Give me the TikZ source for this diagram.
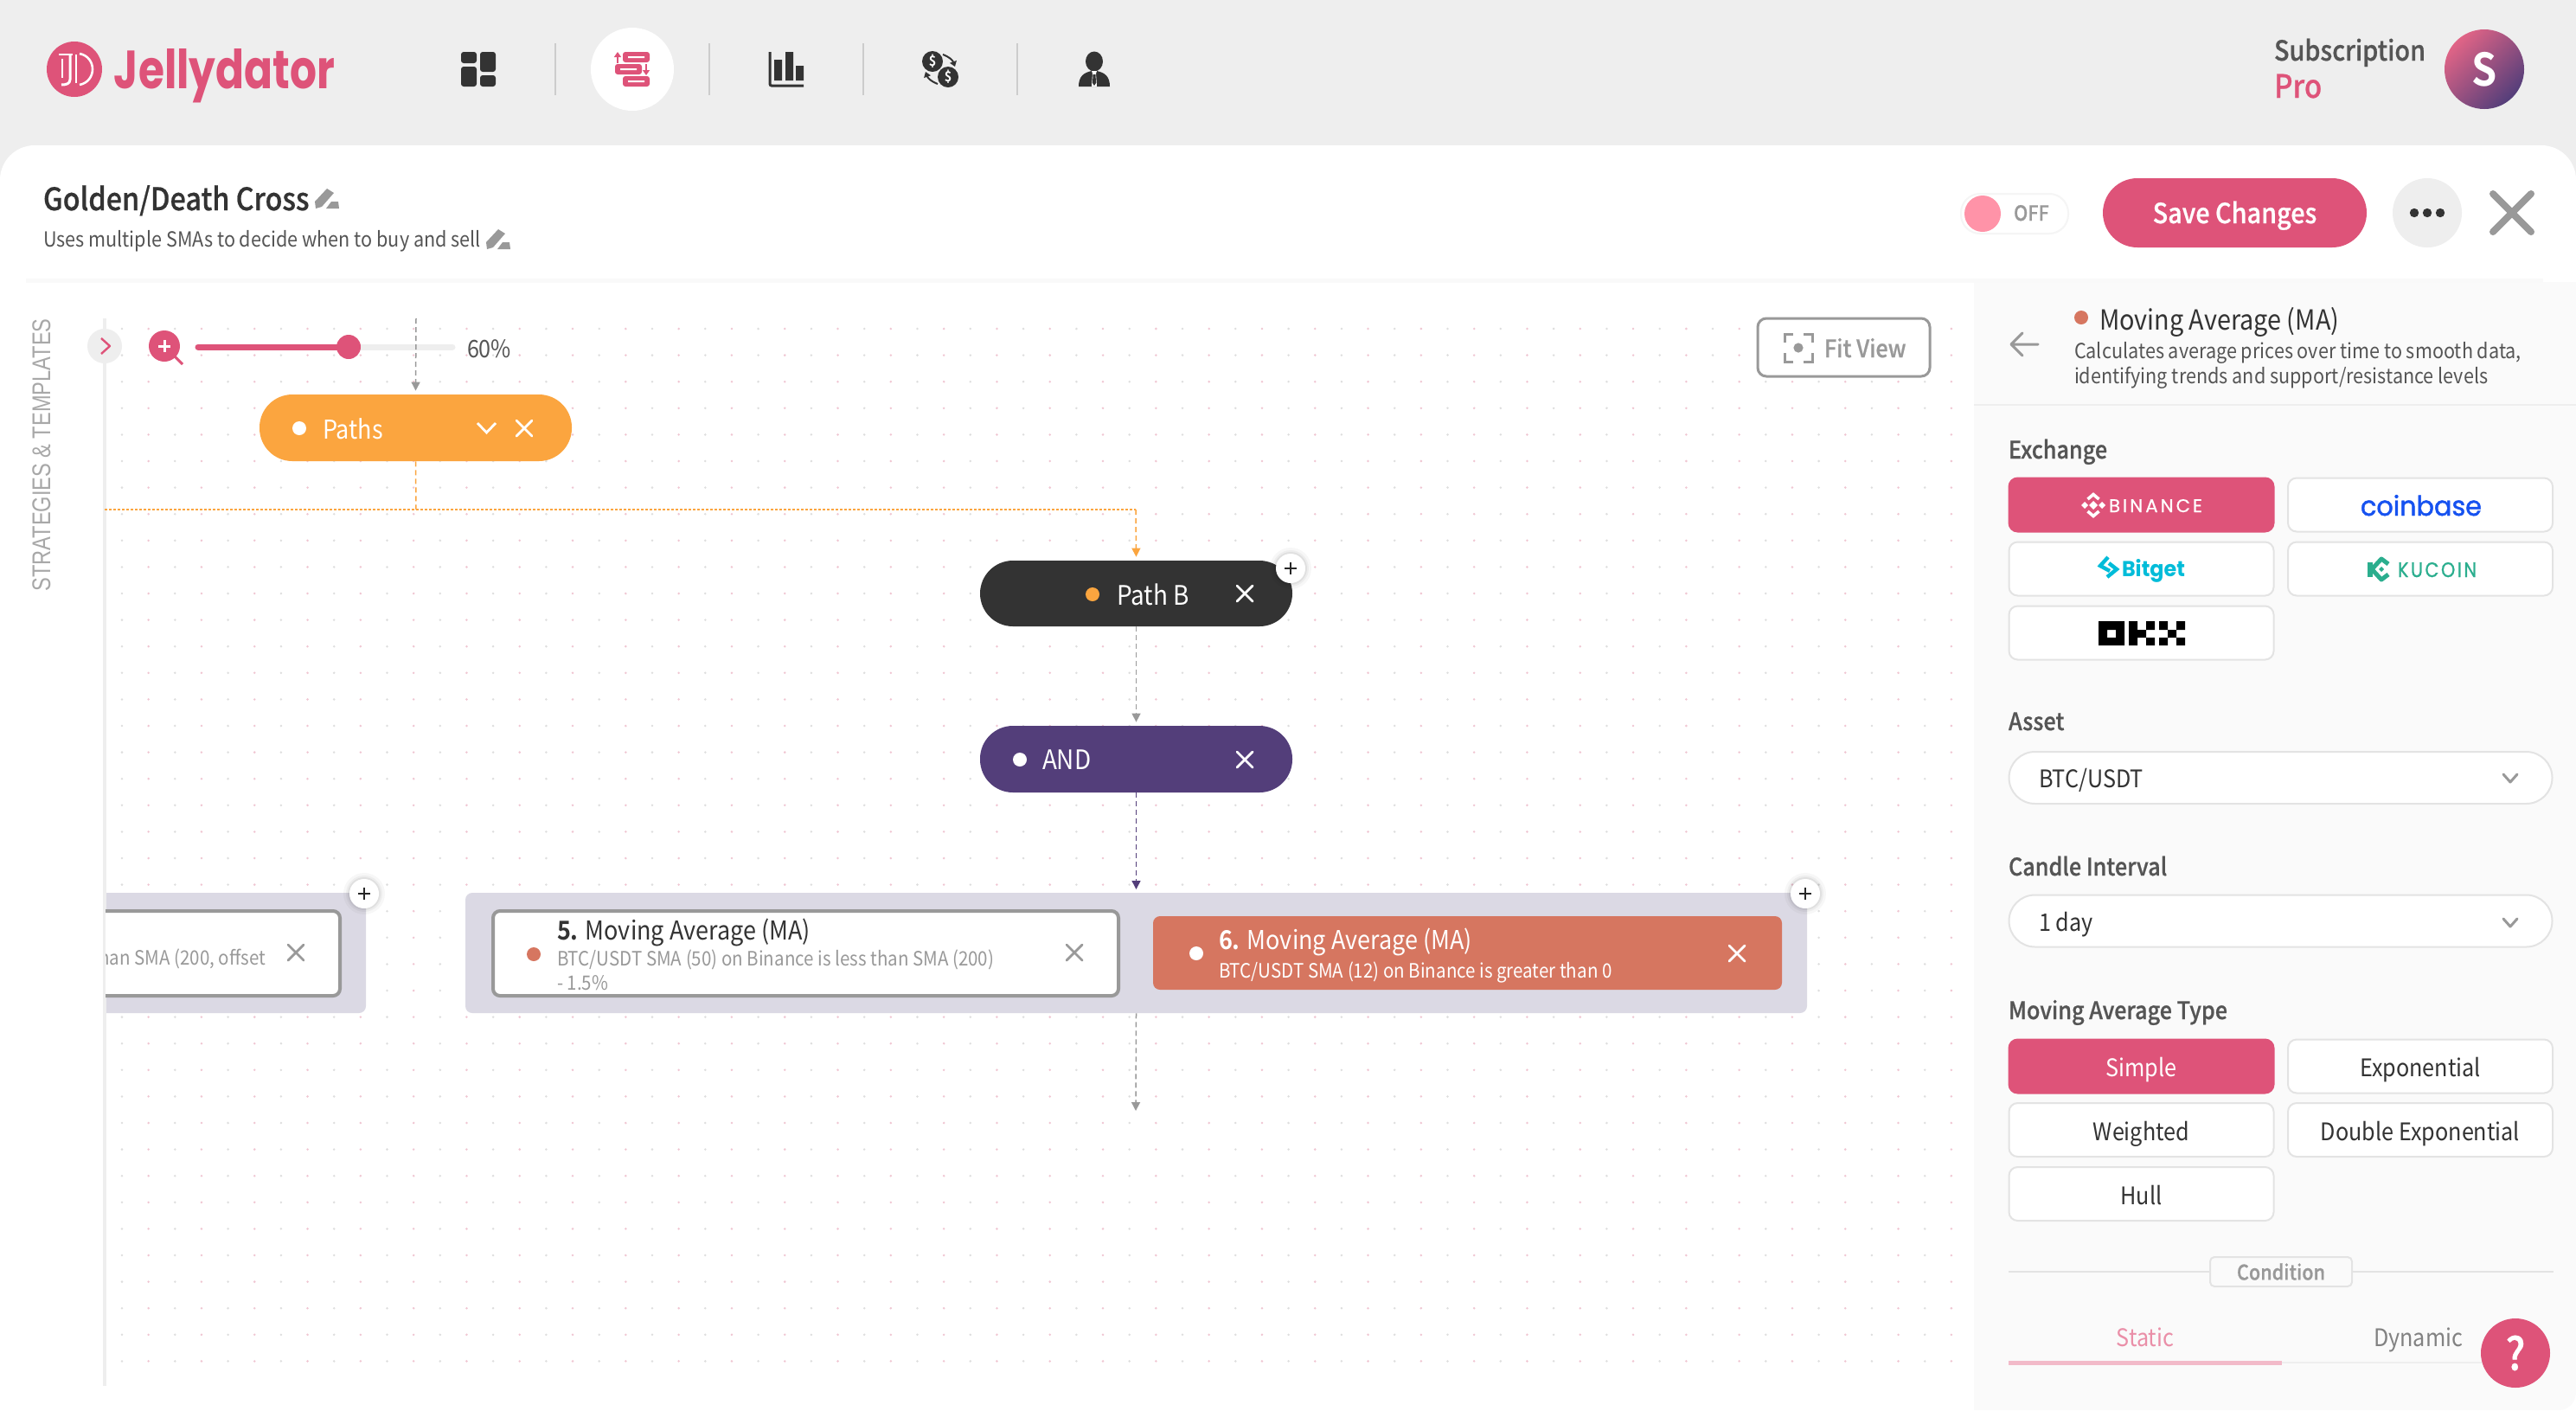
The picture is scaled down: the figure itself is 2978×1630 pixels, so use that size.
\documentclass[tikz,border=0pt]{standalone}
\usepackage{fontspec}
\usepackage{graphicx}
\usetikzlibrary{arrows.meta,shadows}
\setmainfont{Noto Sans CJK JP}[FakeStretch=0.9,BoldFont={Noto Sans CJK JP Bold}]
\newfontfamily\medf{Noto Sans CJK JP Medium}[FakeStretch=0.9,FakeBold=0.6]
\newfontfamily\popf{Poppins}[BoldFont={Poppins Bold}]
\newfontfamily\heli{Liberation Sans}
\newcommand{\fpx}[1]{\fontsize{#1}{#1}\selectfont}
\definecolor{jpink}{HTML}{DE5379}
\definecolor{jdark}{HTML}{333333}
\definecolor{jbg}{HTML}{EEEEEE}
\definecolor{jorange}{HTML}{FBA53F}
\definecolor{jpurple}{HTML}{533E7A}
\definecolor{jcoral}{HTML}{D67660}
\definecolor{jgroup}{HTML}{DBD9E4}
\definecolor{jgray}{HTML}{999999}
\definecolor{jtxt}{HTML}{555555}
\definecolor{jline}{HTML}{E3E3E3}
\definecolor{jpanel}{HTML}{FAFAFA}
\definecolor{dotpink}{HTML}{F0C6D2}
\definecolor{dotgray}{HTML}{DEDEDE}
\definecolor{jtoggle}{HTML}{FF93A8}
\newcommand{\closex}[5][1]{\draw[#5,line width=#4,line cap=round] ({#2-#1},{#3-#1}) -- ({#2+#1},{#3+#1}) ({#2-#1},{#3+#1}) -- ({#2+#1},{#3-#1});}
\newcommand{\pencilicon}[3]{\begin{scope}[shift={(#1,#2)},scale=#3]
\fill[jgray] (1,24) -- (0,16) -- (14,1) -- (22,6) -- (8,22) -- cycle;
\fill[jgray] (13,24) -- (19,16) -- (27,16) -- (28,24) -- cycle;
\end{scope}}
\newcommand{\plusbtn}[3]{\fill[black,opacity=.03] (#2,#3) circle (12pt);\fill[black,opacity=.04] (#2,#3) circle (10.5pt);\fill[black,opacity=.05] (#2,#3) circle (9.5pt);
\node[circle,fill=white,minimum size=17pt,inner sep=0] (#1) at (#2,#3) {};
\draw[black!85,line width=1.1pt] ({#2-7},#3) -- ({#2+7},#3) ({#2},{#3-7}) -- ({#2},{#3+7});}
\tikzset{
 x=0.5pt,y=-0.5pt,
 txt/.style={inner sep=0,outer sep=0,anchor=base west},
 ctxt/.style={inner sep=0,outer sep=0,anchor=base},
 btn/.style={draw=jline,line width=1pt,fill=white,rounded corners=5pt,minimum width=153pt,minimum height=31pt,inner sep=0,text height=15pt,text depth=3pt,font=\fpx{14},text=jdark},
 btnon/.style={btn,draw=jpink,fill=jpink,text=white},
 pill/.style={rounded corners=19pt,minimum width=180.5pt,minimum height=38.5pt,inner sep=0},
 conn/.style={line width=.75pt,dash pattern=on 3pt off 2pt,-{Triangle[length=5pt,width=5pt]}},
 dashonly/.style={line width=.75pt,dash pattern=on 3pt off 2pt},
 sel/.style={draw=jline,line width=1pt,fill=white,rounded corners=15pt,minimum width=314pt,minimum height=30pt,inner sep=0},
 chev/.style={draw=jgray,line width=1.5pt,line cap=round,line join=round},
 icon/.style={fill=jdark},
}
\begin{document}
\begin{tikzpicture}
\useasboundingbox (0,0) rectangle (2978,1630);
% backgrounds
\fill[jbg] (0,0) rectangle (2978,1630);
\fill[white,rounded corners=20pt] (0,168) rectangle (2978,1680);
\fill[jpanel] (2282,326) -- (2978,326) -- (2978,1608) .. controls (2978,1620) and (2970,1630) .. (2958,1630) -- (2282,1630) -- cycle;
\fill[white] (0,1610) rectangle (2282,1630);
\fill[jbg!35] (30,322) rectangle (2940,327);
% dots
\fill[dotpink] \foreach \i in {1,3,...,69}{\foreach \j in {0,...,39}{({141+30.65*\i},{380+30.6*\j}) circle (0.7pt)}};
\fill[dotgray] \foreach \i in {0,2,...,68}{\foreach \j in {0,...,39}{({141+30.65*\i},{380+30.6*\j}) circle (0.7pt)}};
% logo
\node[circle,fill=jpink,minimum size=32pt,inner sep=0] (logo) at (86,80) {};
\draw[white,line width=1pt,line join=round] (68,63) -- (84,63) (72,68) -- (72,90);
\draw[white,line width=1.5pt,line join=round] (81,63) -- (81,92) .. controls (81,97) and (76,98) .. (71,98);
\draw[white,line width=1.3pt] (92,62) .. controls (112,66) and (112,94) .. (92,98);
\draw[white,line width=1pt] (88,63) -- (88,96);
\node[txt,text=jpink] (brand) at (132,102) {\resizebox{127.5pt}{23pt}{\popf\bfseries Jellydator}};
% nav
\fill[icon,rounded corners=1.5pt] (533,60) rectangle (551,73) (533,77) rectangle (551,100) (555,60) rectangle (573,83) (555,87) rectangle (573,100);
\foreach \sx in {642,820,998,1176}{\draw[jline!90!black,line width=1pt] (\sx,50) -- (\sx,110);}
\node[circle,fill=white,minimum size=48pt,inner sep=0] (navsel) at (731,80) {};
\fill[jpink,rounded corners=1.5pt] (720,60) rectangle (751,72) (711,74) rectangle (742,86) (720,88) rectangle (751,100);
\fill[white] (726,65) rectangle (745,67) (717,79) rectangle (736,81) (726,93) rectangle (745,95);
\draw[jpink,line width=1pt,-{Triangle[length=3pt,width=4pt]}] (714,73) -- (714,60);
\draw[jpink,line width=1pt,-{Triangle[length=3pt,width=4pt]}] (747,74) -- (747,87);
\draw[jdark,line width=1.5pt,rounded corners=1pt] (890,60) -- (890,99) -- (929,99);
\fill[icon] (895,69) rectangle (904,93) (908,60) rectangle (917,93) (920,76) rectangle (929,93);
\fill[icon] (1078,71) circle (6pt) (1096,89) circle (6pt);
\node[text=white,inner sep=0,font=\fpx{8}\bfseries] (cur1) at (1078,71) {\$};
\node[text=white,inner sep=0,font=\fpx{8}\bfseries] (cur2) at (1096,89) {\$};
\draw[jdark,line width=1pt,-{Triangle[length=3pt,width=4pt]}] (1090,63) to[bend left=25] (1104,77);
\draw[jdark,line width=1pt,-{Triangle[length=3pt,width=4pt]}] (1084,97) to[bend left=25] (1070,83);
\fill[icon] (1265,71) ellipse (5pt and 5.75pt);
\fill[icon] (1247,100) .. controls (1247,88) and (1253,84) .. (1262,82) -- (1268,82) .. controls (1277,84) and (1283,88) .. (1283,100) -- cycle;
\fill[white] (1262,82) -- (1268,82) -- (1267,85) -- (1268,100) -- (1262,100) -- (1263,85) -- cycle;
\fill[icon] (1263.5,86) -- (1266.5,86) -- (1267,96) -- (1265,99) -- (1263,96) -- cycle;
% subscription
\node[txt,text=jtxt,font=\fpx{16}\medf] (sub) at (2629,70) {Subscription};
\node[txt,text=jpink,font=\fpx{18.5}\medf] (pro) at (2629,113) {Pro};
\shade[shading=axis,top color=jpink!90!white,bottom color=jpurple,shading angle=45] (2872,80) circle (23pt);
\node[text=white,font=\fpx{26}\bfseries,inner sep=0] (avatar) at (2872,80) {S};
% title
\node[txt,text=jdark,font=\fpx{18}\medf] (title) at (50,243) {Golden/Death Cross};
\pencilicon{364}{217}{1}
\node[txt,text=jtxt,font=\fpx{12}] (subtitle) at (50,285) {Uses multiple SMAs to decide when to buy and sell};
\pencilicon{562}{264}{1}
% toggle etc
\node[draw=jbg!60,line width=1pt,fill=white,rounded corners=11pt,minimum width=62pt,minimum height=23pt,inner sep=0] (tog) at (2329,247) {};
\fill[jtoggle] (2292,247) circle (10.5pt);
\node[txt,text=jgray,font=\fpx{12}\medf] (off) at (2328,255) {OFF};
\node[fill=jpink,rounded corners=20pt,minimum width=152.5pt,minimum height=40pt,inner sep=0,text=white,font=\fpx{16}\medf,text height=15pt,text depth=3pt] (save) at (2583.5,246) {Save Changes};
\node[circle,fill=jbg,minimum size=40pt,inner sep=0] (more) at (2806,246) {};
\fill[jdark] (2791,246) circle (2.6pt) (2806,246) circle (2.6pt) (2821,246) circle (2.6pt);
\closex[22]{2904}{246}{4pt}{jgray}
% side
\node[rotate=90,text=jgray!85,inner sep=0,font=\fpx{11.8}\heli] (side) at (48,526) {\scalebox{1}[1.26]{STRATEGIES \& TEMPLATES}};
\draw[jbg,line width=2pt] (121,368) -- (121,1602);
\node[circle,fill=jbg,minimum size=20pt,inner sep=0] (toggle) at (121,400) {};
\draw[jpink,line width=1.2pt,line join=round] (117,391) -- (127,400) -- (117,409);
\draw[jpink,line width=1.5pt] (200,410) -- (211,421);
\node[circle,fill=jpink,minimum size=18pt,inner sep=0] (zoomi) at (190,400) {};
\draw[white,line width=1.5pt] (183,400) -- (197,400) (190,393) -- (190,407);
\draw[jbg,line width=3.5pt,line cap=round] (229,401) -- (523,401);
\draw[jpink,line width=3.5pt,line cap=round] (229,401) -- (403,401);
\node[circle,fill=jpink,minimum size=14pt,inner sep=0] (knob) at (403,401) {};
\node[txt,text=jtxt,font=\fpx{14}] (pct) at (540,413) {60\%};
% fit view
\node[draw=jgray,line width=1.5pt,fill=white,rounded corners=5pt,minimum width=99.5pt,minimum height=33.5pt,inner sep=0] (fit) at (2131.5,401.5) {};
\node[txt,text=jgray,font=\fpx{14}\medf] (fitt) at (2109,413) {Fit View};
\draw[jgray,line width=1.5pt] (2063,396) -- (2063,386) -- (2073,386) (2085,386) -- (2095,386) -- (2095,396) (2095,408) -- (2095,418) -- (2085,418) (2073,418) -- (2063,418) -- (2063,408);
\fill[jgray] (2079,402) circle (2.8pt);
% nodes
\coordinate (topstart) at (481,368);
\node[pill,fill=jorange] (paths) at (480.5,494.5) {};
\fill[white] (346,495) circle (4pt);
\node[txt,text=white,font=\fpx{15}] (pathst) at (373,507) {Paths};
\draw[white,line width=1.4pt] (552,489) -- (562.5,500) -- (573,489);
\closex[9]{606}{495}{1.4pt}{white}
\node[pill,fill=jdark,minimum height=38pt] (pathb) at (1313.5,686) {};
\fill[jorange] (1263,687) circle (4pt);
\node[txt,text=white,font=\fpx{15.5}] (pathbt) at (1291,699) {Path B};
\closex[9]{1439}{686}{1.4pt}{white}
\plusbtn{pbplus}{1492}{657}
\node[pill,fill=jpurple] (andn) at (1313.5,877.5) {};
\fill[white] (1179,878) circle (4pt);
\node[txt,text=white,font=\fpx{15.5}] (andt) at (1205,889) {AND};
\closex[9]{1439}{878}{1.4pt}{white}
% groups
\node[fill=jgroup,rounded corners=4pt,minimum width=775.5pt,minimum height=69.5pt,inner sep=0] (grp) at (1313.5,1101.5) {};
\fill[jgroup,rounded corners=4pt] (100,1032) rectangle (423,1171);
\fill[white] (100,1025) rectangle (119,1180);
\draw[jbg,line width=2pt] (121,1025) -- (121,1180);
\begin{scope}
\clip (122,1040) rectangle (430,1160);
\fill[white,draw=jgray,line width=2pt,rounded corners=4pt] (80,1053) rectangle (393,1151);
\node[txt,text=jgray,font=\fpx{11.4},anchor=base east] (leftt) at (307,1115) {than SMA (200, offset};
\end{scope}
\closex[9]{342}{1101}{1.4pt}{jgray}
\plusbtn{lplus}{421}{1033}
\node[draw=jgray,line width=2pt,fill=white,rounded corners=4pt,minimum width=361.5pt,minimum height=49pt,inner sep=0] (card5) at (931.5,1102) {};
\fill[jcoral] (617,1103) circle (4pt);
\node[txt,text=jdark,font=\fpx{15}] (c5t) at (644,1086) {{\bfseries 5.} Moving Average (MA)};
\node[txt,text=jgray,font=\fpx{11.4}] (c5s) at (644,1116) {BTC/USDT SMA (50) on Binance is less than SMA (200)};
\node[txt,text=jgray,font=\fpx{11.4}] (c5u) at (644,1144) {- 1.5\%};
\closex[9]{1242}{1101}{1.4pt}{jgray}
\node[fill=jcoral,rounded corners=4pt,minimum width=363.5pt,minimum height=42.5pt,inner sep=0] (card6) at (1696.5,1101.5) {};
\fill[white] (1383,1102) circle (4pt);
\node[txt,text=white,font=\fpx{15}] (c6t) at (1409,1097) {{\bfseries 6.} Moving Average (MA)};
\node[txt,text=white,font=\fpx{11.4}] (c6s) at (1409,1130) {BTC/USDT SMA (12) on Binance is greater than 0};
\closex[9]{2008}{1102}{1.4pt}{white}
\plusbtn{rplus}{2087}{1033}
\coordinate (endpt) at (1313,1284);
\coordinate (junc) at (481,589);
\coordinate (leftend) at (121,589);
\coordinate (corner) at (1313,589);
% connectors
\draw[conn,jgray,shorten >=2pt] (topstart) -- (paths.north);
\draw[dashonly,jorange] (paths.south) -- (junc);
\draw[jorange,line width=1pt,dash pattern=on 1.5pt off 1pt] (leftend) -- (corner);
\draw[conn,jorange,shorten >=2pt] (corner) -- (pathb.north);
\draw[conn,jgray,shorten >=2pt] (pathb.south) -- (andn.north);
\draw[conn,jpurple,shorten >=2pt] (andn.south) -- (1313.5,1032);
\draw[conn,jgray] (grp.south) -- (endpt);
% right panel
\draw[jgray,line width=1.5pt,line cap=round,line join=round] (2356,398) -- (2325,398) (2338,385) -- (2325,398) -- (2338,411);
\fill[jcoral] (2406,367) circle (4pt);
\node[txt,text=jdark,font=\fpx{16}] (rt) at (2427,381) {Moving Average (MA)};
\node[txt,text=jtxt,font=\fpx{12}] (rs1) at (2398,414) {Calculates average prices over time to smooth data,};
\node[txt,text=jtxt,font=\fpx{12}] (rs2) at (2398,443) {identifying trends and support/resistance levels};
\draw[jbg,line width=1pt] (2282,468) -- (2978,468);
\node[txt,text=jtxt,font=\fpx{14}\medf] (lex) at (2322,530) {Exchange};
\node[btnon] (b1) at (2475.5,583.5) {};
\node[btn] (b2) at (2798,583.5) {};
\node[btn] (b3) at (2475.5,657.5) {};
\node[btn] (b4) at (2798,657.5) {};
\node[btn] (b5) at (2475.5,731.5) {};
% binance logo
\begin{scope}[white]
\fill (2420,579) -- (2425,584) -- (2420,589) -- (2415,584) -- cycle;
\fill (2410,580) -- (2414,584) -- (2410,588) -- (2406,584) -- cycle;
\fill (2430,580) -- (2434,584) -- (2430,588) -- (2426,584) -- cycle;
\draw[line width=1.8pt] (2413.5,577) -- (2420,571.5) -- (2426.5,577) (2413.5,591) -- (2420,596.5) -- (2426.5,591);
\end{scope}
\node[txt,text=white] (binance) at (2438,592) {\resizebox{54pt}{7.5pt}{\popf\addfontfeature{LetterSpace=14,FakeBold=0.5}BINANCE}};
\definecolor{cbblue}{HTML}{1652F0}
\node[txt,text=cbblue] (coinb) at (2729,596) {\resizebox{70pt}{12pt}{\popf\addfontfeature{FakeBold=1.4}coinbase}};
\definecolor{bgcyan}{HTML}{00BCD9}
\draw[bgcyan,line width=2.2pt,line join=miter] (2437,644) -- (2428,654) -- (2439,660);
\draw[bgcyan,line width=2.2pt,line join=miter] (2438,651) -- (2447,658) -- (2436,667);
\node[txt,text=bgcyan] (bitget) at (2453,666) {\resizebox{36.5pt}{10pt}{\popf\bfseries Bitget}};
\definecolor{kugreen}{HTML}{2BAE8E}
\fill[kugreen] (2737,650) rectangle (2743,667);
\draw[kugreen,line width=2.5pt,line join=round] (2761,652) -- (2753,646) -- (2742,658) -- (2753,670) -- (2761,664);
\fill[kugreen] (2753,655) -- (2756,658) -- (2753,661) -- (2750,658) -- cycle;
\node[txt,text=kugreen] (kucoin) at (2772,667) {\resizebox{45.5pt}{8.5pt}{\popf\addfontfeature{LetterSpace=12,FakeBold=1}KUCOIN}};
% okx
\fill[black,even odd rule] (2426,718) rectangle (2456,746) (2436,728) rectangle (2446,737);
\fill[black] (2461,718) rectangle (2471,746) (2471,728) rectangle (2481,737) (2481,718) rectangle (2491,728) (2481,737) rectangle (2491,746)
 (2496,718) rectangle (2506,728) (2496,737) rectangle (2506,746) (2506,728) rectangle (2516,737) (2516,718) rectangle (2526,728) (2516,737) rectangle (2526,746);
\node[txt,text=jtxt,font=\fpx{14}\medf] (lasset) at (2322,844) {Asset};
\node[sel] (s1) at (2636.5,899) {};
\node[txt,text=jdark,font=\fpx{14}] (s1t) at (2357,910) {BTC/USDT};
\draw[chev] (2894,895) -- (2902,904) -- (2910,895);
\node[txt,text=jtxt,font=\fpx{14}\medf] (lcandle) at (2322,1012) {Candle Interval};
\node[sel] (s2) at (2636.5,1064.5) {};
\node[txt,text=jdark,font=\fpx{14}] (s2t) at (2357,1076) {1 day};
\draw[chev] (2894,1062) -- (2902,1071) -- (2910,1062);
\node[txt,text=jtxt,font=\fpx{14}\medf] (ltype) at (2322,1178) {Moving Average Type};
\node[btnon] (t1) at (2475.5,1232.5) {Simple};
\node[btn] (t2) at (2798,1232.5) {Exponential};
\node[btn] (t3) at (2475.5,1306) {Weighted};
\node[btn] (t4) at (2798,1306) {Double Exponential};
\node[btn] (t5) at (2475.5,1380) {Hull};
\draw[jline,line width=1pt] (2322,1470) -- (2952,1470);
\node[draw=jline,line width=1pt,fill=jpanel,rounded corners=2.5pt,minimum width=82pt,minimum height=17pt,inner sep=0,text=jgray,font=\fpx{12}\medf] (cond) at (2637,1470) {Condition};
\node[ctxt,text=jpink!65,font=\fpx{14}] (stat) at (2480,1556) {Static};
\node[txt,text=jgray!85!black,font=\fpx{14}] (dyn) at (2744,1556) {Dynamic};
\draw[jbg,line width=1pt] (2638,1575) -- (2880,1575);
\draw[jpink!40,line width=2.5pt] (2322,1575) -- (2638,1575);
\node[circle,fill=jpink,minimum size=40pt,inner sep=0,text=white,font=\fpx{26}\medf] (help) at (2908,1564) {?};
\end{tikzpicture}
\end{document}
